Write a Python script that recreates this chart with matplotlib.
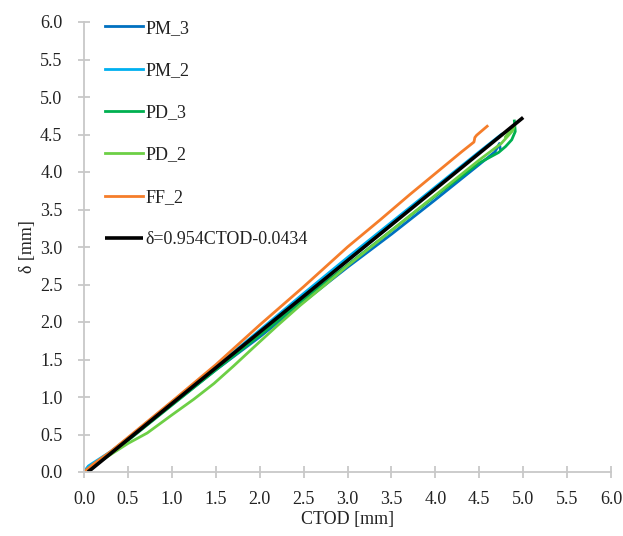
import matplotlib
matplotlib.use("Agg")
import matplotlib.pyplot as plt

plt.rcParams['font.family'] = ['Liberation Serif', 'DejaVu Serif']

# curves (CTOD [mm], delta [mm])
pm3_x = [0.0, 0.05, 0.1, 0.3, 0.5, 1.0, 1.5, 2.0, 2.5, 3.0, 3.5, 4.0, 4.5, 4.68, 4.73, 4.74]
pm3_y = [0.0, 0.07, 0.1, 0.25, 0.43, 0.9, 1.36, 1.80, 2.27, 2.73, 3.17, 3.63, 4.10, 4.27, 4.38, 4.30]

pm2_x = [0.0, 0.05, 0.3, 0.5, 1.0, 1.5, 2.0, 2.5, 3.0, 3.5, 4.0, 4.5, 4.75]
pm2_y = [0.0, 0.08, 0.27, 0.45, 0.93, 1.40, 1.89, 2.38, 2.86, 3.33, 3.80, 4.27, 4.50]

pd3_x = [0.0, 0.1, 0.3, 0.5, 1.0, 1.5, 2.0, 2.5, 3.0, 3.5, 4.0, 4.5, 4.72, 4.80, 4.87, 4.91, 4.90]
pd3_y = [0.0, 0.08, 0.24, 0.42, 0.89, 1.36, 1.82, 2.30, 2.76, 3.22, 3.68, 4.12, 4.26, 4.34, 4.43, 4.54, 4.68]

pd2_x = [0.0, 0.1, 0.38, 0.5, 0.72, 1.0, 1.25, 1.48, 1.7, 1.93, 2.2, 2.46, 2.75, 3.0, 3.5, 4.0,
         4.5, 4.75, 4.88, 4.90, 4.80]
pd2_y = [0.0, 0.08, 0.29, 0.38, 0.52, 0.76, 0.97, 1.18, 1.41, 1.66, 1.95, 2.22, 2.50, 2.75, 3.22, 3.69,
         4.16, 4.38, 4.55, 4.62, 4.47]

ff2_x = [0.0, 0.1, 0.3, 0.5, 1.0, 1.5, 2.0, 2.5, 3.0, 3.37, 3.71, 4.0, 4.3, 4.44, 4.45, 4.47, 4.59]
ff2_y = [0.0, 0.1, 0.27, 0.46, 0.94, 1.43, 1.96, 2.47, 3.0, 3.36, 3.70, 3.98, 4.27, 4.40, 4.46, 4.49, 4.61]

# linear fit, delta = 0.954 CTOD - 0.0434
fit_x = [0.045, 5.0]
fit_y = [0.0, 4.727]

labels = ["PM_3", "PM_2", "PD_3", "PD_2", "FF_2", "δ=0.954CTOD-0.0434"]
ticks = [0.0, 0.5, 1.0, 1.5, 2.0, 2.5, 3.0, 3.5, 4.0, 4.5, 5.0, 5.5, 6.0]

fig = plt.figure(figsize=(6.23, 5.36), dpi=100)
ax = fig.add_axes([84 / 623, 64 / 536, 527 / 623, 450 / 536])

lw = 2.0
ax.plot(pm3_x, pm3_y, color="#0070C0", lw=lw, label=labels[0])
ax.plot(pm2_x, pm2_y, color="#00B0F0", lw=lw, label=labels[1])
ax.plot(pd3_x, pd3_y, color="#00B050", lw=lw, label=labels[2])
ax.plot(pd2_x, pd2_y, color="#6DCF45", lw=lw, label=labels[3])
ax.plot(ff2_x, ff2_y, color="#F57D2A", lw=lw, label=labels[4])
ax.plot(fit_x, fit_y, color="black", lw=2.6, label=labels[5], solid_capstyle="butt")

ax.set_xlim(0, 6)
ax.set_ylim(0, 6)
ax.set_xticks(ticks)
ax.set_yticks(ticks)
ax.set_xticklabels([f"{t:.1f}" for t in ticks])
ax.set_yticklabels([f"{t:.1f}" for t in ticks])

for s in ["top", "right"]:
    ax.spines[s].set_visible(False)
for s in ["left", "bottom"]:
    ax.spines[s].set_color("#C8C8C8")
    ax.spines[s].set_linewidth(1.3)
ax.tick_params(direction="inout", length=9, width=1.3, color="#C8C8C8",
               labelsize=13, labelcolor="#222222")
ax.tick_params(axis="y", pad=11)
ax.tick_params(axis="x", pad=9)
ax.set_xlabel("CTOD [mm]", fontsize=13, color="#222222", labelpad=2)
ax.set_ylabel("δ [mm]", fontsize=13, color="#222222", labelpad=3)

leg = ax.legend(loc="upper left", bbox_to_anchor=(21 / 527, 1.005), frameon=False,
                fontsize=13, handlelength=2.1, handletextpad=0.15,
                labelspacing=1.4, borderpad=0, borderaxespad=0)
for t in leg.get_texts():
    t.set_color("#222222")

fig.savefig("out.png", dpi=100)
